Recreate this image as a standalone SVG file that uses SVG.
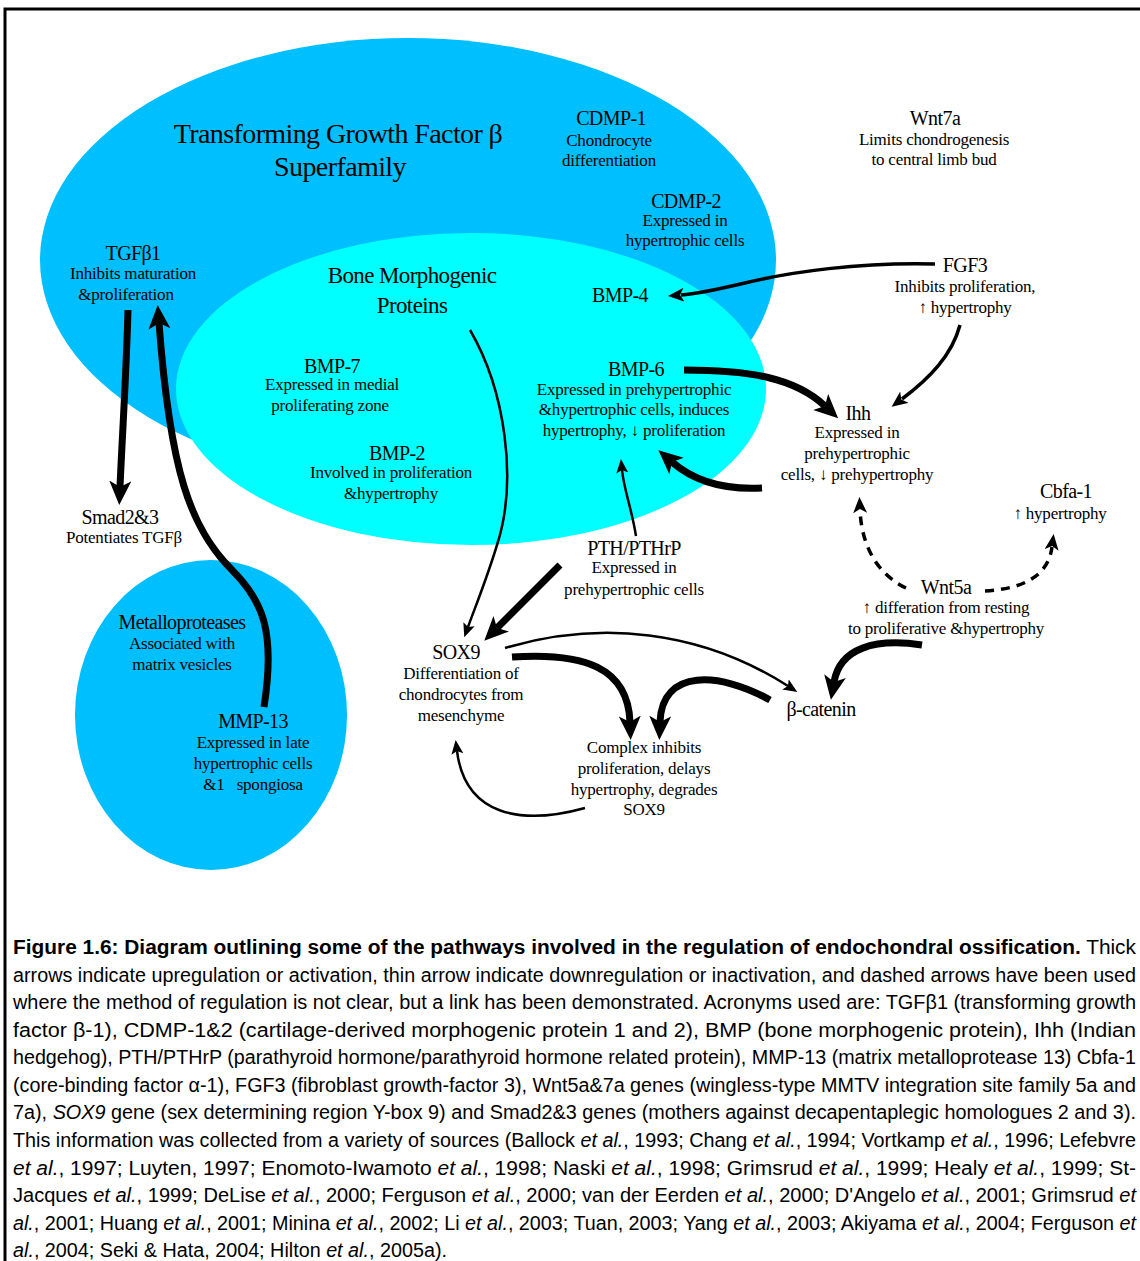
<svg xmlns="http://www.w3.org/2000/svg" width="1140" height="1261" viewBox="0 0 1140 1261">
<style>
.t{font-family:"Liberation Serif","Times New Roman",serif;text-anchor:middle;fill:#000}
.h{font-size:20px;letter-spacing:-0.6px}
.s{font-size:17px;letter-spacing:-0.2px}
.big{font-size:28px;letter-spacing:-0.6px}
.mid{font-size:23px;letter-spacing:-0.6px}
.thick{fill:none;stroke:#000;stroke-width:7}
.thin{fill:none;stroke:#000;stroke-width:2.5}
.med{fill:none;stroke:#000;stroke-width:3.5}
.dash{fill:none;stroke:#000;stroke-width:3.5;stroke-dasharray:9 7}
.cap{font-family:"Liberation Sans Narrow","Liberation Sans",Arial,sans-serif;font-size:20px;fill:#000}
</style>
<defs>
<marker id="aT" markerUnits="userSpaceOnUse" markerWidth="26" markerHeight="24" refX="6" refY="11" orient="auto"><path d="M0,0 L24,11 L0,22 L6,11 Z" fill="#000"/></marker>
<marker id="aS" markerUnits="userSpaceOnUse" markerWidth="16" markerHeight="14" refX="3" refY="6" orient="auto"><path d="M0,0 L14,6 L0,12 L3,6 Z" fill="#000"/></marker>
<marker id="aM" markerUnits="userSpaceOnUse" markerWidth="18" markerHeight="16" refX="3" refY="7" orient="auto"><path d="M0,0 L16,7 L0,14 L4,7 Z" fill="#000"/></marker>
</defs>
<rect width="1140" height="1261" fill="#fff"/>
<path d="M5,1261 V9 H1140" fill="none" stroke="#000" stroke-width="3"/>

<g id="tgfb-superfamily"><ellipse cx="408" cy="260" rx="368" ry="222" fill="#00BFFF"/>
<text class="t big" x="338" y="143">Transforming Growth Factor β</text>
<text class="t big" x="340" y="176">Superfamily</text></g>
<g id="bmp-group"><ellipse cx="471" cy="389" rx="295" ry="156" fill="#00FFFF"/>
<text class="t mid" x="412" y="283">Bone Morphogenic</text>
<text class="t mid" x="412" y="313">Proteins</text></g>
<g id="metalloproteases"><ellipse cx="211" cy="715" rx="136" ry="155" fill="#00BFFF"/>
<text class="t h" x="182" y="629">Metalloproteases</text>
<text class="t s" x="182" y="649">Associated with</text>
<text class="t s" x="182" y="670">matrix vesicles</text></g>

<g id="connectors">
<path class="thick" d="M128,310 C126,380 122,440 120,487" marker-end="url(#aT)"/>
<path class="thick" d="M264,707 C276,630 262,600 232,570 C190,528 170,470 159,323" marker-end="url(#aT)"/>
<path class="thin" d="M470,330 C505,390 518,480 497,545 C487,578 476,605 468,627" marker-end="url(#aS)"/>
<path class="thick" d="M560,565 L497,628" marker-end="url(#aT)"/>
<path class="thin" d="M636,536 C632,510 624,490 622,470" marker-end="url(#aS)"/>
<path class="med" d="M935,264 C860,262 790,272 745,283 C715,290 695,294 681,295" marker-end="url(#aM)"/>
<path class="med" d="M960,325 C952,355 930,378 902,399" marker-end="url(#aM)"/>
<path class="thick" d="M684,370 C750,370 795,378 825,406" marker-end="url(#aT)"/>
<path class="thick" d="M762,488 C725,490 695,482 672,462" marker-end="url(#aT)"/>
<path class="dash" d="M906,588 C885,578 862,555 860,510" marker-end="url(#aM)"/>
<path class="dash" d="M985,591 C1020,589 1048,578 1052,547" marker-end="url(#aM)"/>
<path class="thick" d="M922,645 C875,638 840,648 834,682" marker-end="url(#aT)"/>
<path class="thin" d="M505,648 C600,620 700,630 788,686" marker-end="url(#aS)"/>
<path class="thick" d="M512,657 C585,652 628,668 630,722" marker-end="url(#aT)"/>
<path class="thick" d="M770,700 C720,672 662,668 660,722" marker-end="url(#aT)"/>
<path class="thin" d="M585,808 C520,826 465,815 457,751" marker-end="url(#aS)"/>
</g>

<g id="cdmp1"><text class="t h" x="611" y="125">CDMP-1</text>
<text class="t s" x="609" y="146">Chondrocyte</text>
<text class="t s" x="609" y="166">differentiation</text></g>
<g id="wnt7a"><text class="t h" x="935" y="125">Wnt7a</text>
<text class="t s" x="934" y="145">Limits chondrogenesis</text>
<text class="t s" x="934" y="165">to central limb bud</text></g>
<g id="cdmp2"><text class="t h" x="686" y="208">CDMP-2</text>
<text class="t s" x="685" y="226">Expressed in</text>
<text class="t s" x="685" y="246">hypertrophic cells</text></g>
<g id="tgfb1"><text class="t h" x="133" y="260">TGFβ1</text>
<text class="t s" x="133" y="279">Inhibits maturation</text>
<text class="t s" x="126" y="300">&amp;proliferation</text></g>
<g id="bmp4"><text class="t h" x="620" y="302">BMP-4</text></g>
<g id="fgf3"><text class="t h" x="965" y="272">FGF3</text>
<text class="t s" x="965" y="292">Inhibits proliferation,</text>
<text class="t s" x="965" y="313">↑ hypertrophy</text></g>
<g id="bmp7"><text class="t h" x="332" y="373">BMP-7</text>
<text class="t s" x="332" y="390">Expressed in medial</text>
<text class="t s" x="330" y="411">proliferating zone</text></g>
<g id="bmp6"><text class="t h" x="636" y="376">BMP-6</text>
<text class="t s" x="634" y="395">Expressed in prehypertrophic</text>
<text class="t s" x="634" y="415">&amp;hypertrophic cells, induces</text>
<text class="t s" x="634" y="436">hypertrophy, ↓ proliferation</text></g>
<g id="bmp2"><text class="t h" x="397" y="460">BMP-2</text>
<text class="t s" x="391" y="478">Involved in proliferation</text>
<text class="t s" x="391" y="499">&amp;hypertrophy</text></g>
<g id="ihh"><text class="t h" x="858" y="420">Ihh</text>
<text class="t s" x="857" y="438">Expressed in</text>
<text class="t s" x="857" y="459">prehypertrophic</text>
<text class="t s" x="857" y="480">cells, ↓ prehypertrophy</text></g>
<g id="cbfa1"><text class="t h" x="1066" y="498">Cbfa-1</text>
<text class="t s" x="1060" y="519">↑ hypertrophy</text></g>
<g id="smad"><text class="t h" x="120" y="524">Smad2&amp;3</text>
<text class="t s" x="124" y="543">Potentiates TGFβ</text></g>
<g id="pthrp"><text class="t h" x="634" y="555">PTH/PTHrP</text>
<text class="t s" x="634" y="573">Expressed in</text>
<text class="t s" x="634" y="595">prehypertrophic cells</text></g>
<g id="wnt5a"><text class="t h" x="946" y="594">Wnt5a</text>
<text class="t s" x="946" y="613">↑ differation from resting</text>
<text class="t s" x="946" y="634">to proliferative &amp;hypertrophy</text></g>
<g id="sox9"><text class="t h" x="456" y="659">SOX9</text>
<text class="t s" x="461" y="679">Differentiation of</text>
<text class="t s" x="461" y="700">chondrocytes from</text>
<text class="t s" x="461" y="721">mesenchyme</text></g>
<g id="bcatenin"><text class="t h" x="821" y="716">β-catenin</text></g>
<g id="mmp13"><text class="t h" x="253" y="728">MMP-13</text>
<text class="t s" x="253" y="748">Expressed in late</text>
<text class="t s" x="253" y="769">hypertrophic cells</text>
<text class="t s" x="253" y="790">&amp;1&#160;&#160;&#160;spongiosa</text></g>
<g id="complex"><text class="t s" x="644" y="753">Complex inhibits</text>
<text class="t s" x="644" y="774">proliferation, delays</text>
<text class="t s" x="644" y="795">hypertrophy, degrades</text>
<text class="t s" x="644" y="815">SOX9</text></g>

<g id="caption">
<text class="cap" x="13" y="954" textLength="1123" lengthAdjust="spacingAndGlyphs"><tspan font-weight="bold">Figure 1.6: Diagram outlining some of the pathways involved in the regulation of endochondral ossification.</tspan>  Thick</text>
<text class="cap" x="13" y="982" textLength="1123" lengthAdjust="spacingAndGlyphs">arrows indicate upregulation or activation, thin arrow indicate downregulation or inactivation, and dashed arrows have been used</text>
<text class="cap" x="13" y="1009" textLength="1123" lengthAdjust="spacingAndGlyphs">where the method of regulation is not clear, but a link has been demonstrated.  Acronyms used are: TGFβ1 (transforming growth</text>
<text class="cap" x="13" y="1037" textLength="1123" lengthAdjust="spacingAndGlyphs">factor β-1), CDMP-1&amp;2 (cartilage-derived morphogenic protein 1 and 2), BMP (bone morphogenic protein), Ihh (Indian</text>
<text class="cap" x="13" y="1064" textLength="1123" lengthAdjust="spacingAndGlyphs">hedgehog), PTH/PTHrP (parathyroid hormone/parathyroid hormone related protein), MMP-13 (matrix metalloprotease 13) Cbfa-1</text>
<text class="cap" x="13" y="1092" textLength="1123" lengthAdjust="spacingAndGlyphs">(core-binding factor α-1), FGF3 (fibroblast growth-factor 3), Wnt5a&amp;7a genes (wingless-type MMTV integration site family 5a and</text>
<text class="cap" x="13" y="1119" textLength="1123" lengthAdjust="spacingAndGlyphs">7a), <tspan font-style="italic">SOX9</tspan> gene (sex determining region Y-box 9) and Smad2&amp;3 genes (mothers against decapentaplegic homologues 2 and 3).</text>
<text class="cap" x="13" y="1147" textLength="1123" lengthAdjust="spacingAndGlyphs">This information was collected from a variety of sources (Ballock <tspan font-style="italic">et al.</tspan>, 1993; Chang <tspan font-style="italic">et al.</tspan>, 1994; Vortkamp <tspan font-style="italic">et al.</tspan>, 1996; Lefebvre</text>
<text class="cap" x="13" y="1175" textLength="1123" lengthAdjust="spacingAndGlyphs"><tspan font-style="italic">et al.</tspan>, 1997; Luyten, 1997; Enomoto-Iwamoto <tspan font-style="italic">et al.</tspan>, 1998; Naski <tspan font-style="italic">et al.</tspan>, 1998; Grimsrud <tspan font-style="italic">et al.</tspan>, 1999; Healy <tspan font-style="italic">et al.</tspan>, 1999; St-</text>
<text class="cap" x="13" y="1202" textLength="1123" lengthAdjust="spacingAndGlyphs">Jacques <tspan font-style="italic">et al.</tspan>, 1999; DeLise <tspan font-style="italic">et al.</tspan>, 2000; Ferguson <tspan font-style="italic">et al.</tspan>, 2000; van der Eerden <tspan font-style="italic">et al.</tspan>, 2000; D'Angelo <tspan font-style="italic">et al.</tspan>, 2001; Grimsrud <tspan font-style="italic">et</tspan></text>
<text class="cap" x="13" y="1230" textLength="1123" lengthAdjust="spacingAndGlyphs"><tspan font-style="italic">al.</tspan>, 2001; Huang <tspan font-style="italic">et al.</tspan>, 2001; Minina <tspan font-style="italic">et al.</tspan>, 2002; Li <tspan font-style="italic">et al.</tspan>, 2003; Tuan, 2003; Yang <tspan font-style="italic">et al.</tspan>, 2003; Akiyama <tspan font-style="italic">et al.</tspan>, 2004; Ferguson <tspan font-style="italic">et</tspan></text>
<text class="cap" x="13" y="1257" textLength="434" lengthAdjust="spacingAndGlyphs"><tspan font-style="italic">al.</tspan>, 2004; Seki &amp; Hata, 2004; Hilton <tspan font-style="italic">et al.</tspan>, 2005a).</text>
</g>
</svg>
